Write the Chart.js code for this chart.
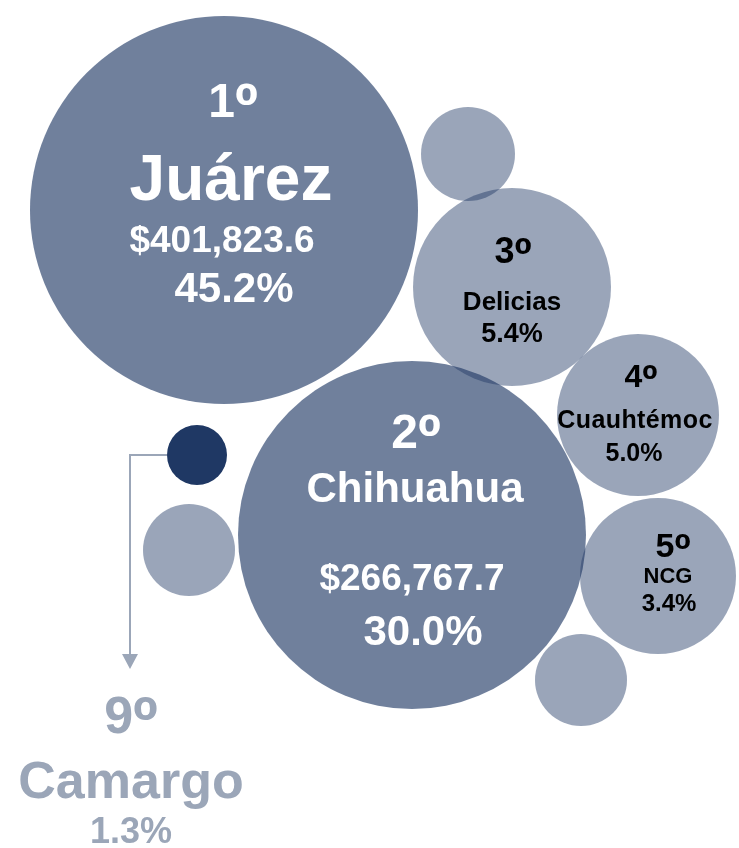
<!DOCTYPE html>
<html>
<head>
<meta charset="utf-8">
<script src="https://cdn.jsdelivr.net/npm/chart.js@4/dist/chart.umd.min.js"></script>
<style>
  html, body { margin: 0; padding: 0; background: #ffffff; }
  #wrap { width: 739px; height: 848px; position: relative; }
</style>
</head>
<body>
<div id="wrap"><canvas id="bubbleChart"></canvas></div>
<script>
// ── Data ─────────────────────────────────────────────────
var ranks        = ["1º", "2º", "3º", "4º", "5º", "6º", "7º", "8º", "9º"];
var municipios   = ["Juárez", "Chihuahua", "Delicias", "Cuauhtémoc", "NCG", "", "", "", "Camargo"];
var montos       = [401823.6, 266767.7, null, null, null, null, null, null, null];
var participacion = [45.2, 30.0, 5.4, 5.0, 3.4, null, null, null, 1.3];

// bubble layout: x / y in chart units, r in px
var bubbleX = [224, 412, 512, 638, 658, 468, 581, 189, 197];
var bubbleY = [210, 535, 287, 415, 576, 154, 680, 550, 455];
var bubbleR = [194, 174, 99, 81, 78, 47, 46, 46, 30];

var NAVY   = "31,56,100";
var BIG    = "rgba(" + NAVY + ",0.64)";
var SMALL  = "rgba(" + NAVY + ",0.45)";
var SOLID  = "rgb(" + NAVY + ")";
var LIGHT  = "#9ba6b8";
var FONT   = "'Liberation Sans', Arial, sans-serif";

var points = bubbleX.map(function(x, i) {
  return { x: x, y: bubbleY[i], r: bubbleR[i] };
});
var colors = bubbleX.map(function(x, i) {
  if (i === 8) return SOLID;
  return i < 2 ? BIG : SMALL;
});

function fmtMonto(v) {
  return "$" + v.toLocaleString("en-US", { minimumFractionDigits: 1, maximumFractionDigits: 1 });
}
function fmtPct(v) {
  return v.toFixed(1) + "%";
}

// text lines per bubble: offsets from bubble centre (baseline)
var labelLayout = {
  0: { color: "#ffffff", lines: [
    { t: ranks[0],                 dx: 9,  dy: -93, size: 48, ord: true },
    { t: municipios[0],            dx: 7,  dy: -10, size: 64 },
    { t: fmtMonto(montos[0]),      dx: -2, dy: 42,  size: 37 },
    { t: fmtPct(participacion[0]), dx: 10, dy: 92,  size: 42 }
  ]},
  1: { color: "#ffffff", lines: [
    { t: ranks[1],                 dx: 4,  dy: -87, size: 48, ord: true },
    { t: municipios[1],            dx: 3,  dy: -33, size: 42 },
    { t: fmtMonto(montos[1]),      dx: 0,  dy: 55,  size: 37 },
    { t: fmtPct(participacion[1]), dx: 11, dy: 110, size: 42 }
  ]},
  2: { color: "#000000", lines: [
    { t: ranks[2],                 dx: 1,  dy: -24, size: 36, ord: true },
    { t: municipios[2],            dx: 0,  dy: 23,  size: 26 },
    { t: fmtPct(participacion[2]), dx: 0,  dy: 55,  size: 27 }
  ]},
  3: { color: "#000000", lines: [
    { t: ranks[3],                 dx: 3,  dy: -28, size: 32, ord: true },
    { t: municipios[3],            dx: -3, dy: 13,  size: 25, spacing: 0.4 },
    { t: fmtPct(participacion[3]), dx: -4, dy: 46,  size: 25 }
  ]},
  4: { color: "#000000", lines: [
    { t: ranks[4],                 dx: 15, dy: -19, size: 34, ord: true },
    { t: municipios[4],            dx: 10, dy: 7,   size: 22 },
    { t: fmtPct(participacion[4]), dx: 11, dy: 35,  size: 24 }
  ]},
  8: { color: LIGHT, lines: [
    { t: ranks[8],                 dx: -66, dy: 278, size: 52, ord: true },
    { t: municipios[8],            dx: -66, dy: 343, size: 52 },
    { t: fmtPct(participacion[8]), dx: -66, dy: 388, size: 36 }
  ]}
};

// rank text: digit plus a larger "º" top-aligned with the digit
function drawRank(ctx, text, cx, y, size) {
  var digit = text.slice(0, -1);
  var ord   = text.slice(-1);
  var big   = size * 1.3;
  ctx.font = "bold " + size + "px " + FONT;
  var w1 = ctx.measureText(digit).width;
  ctx.font = "bold " + big + "px " + FONT;
  var w2 = ctx.measureText(ord).width;
  var x0 = cx - (w1 + w2) / 2;
  ctx.textAlign = "left";
  ctx.font = "bold " + size + "px " + FONT;
  ctx.fillText(digit, x0, y);
  ctx.font = "bold " + big + "px " + FONT;
  ctx.fillText(ord, x0 + w1, y + 0.716 * (big - size));
  ctx.textAlign = "center";
}

// ── Labels + Camargo callout ─────────────────────────────
var bubbleLabels = {
  id: "bubbleLabels",
  afterDatasetsDraw: function(chart) {
    var ctx  = chart.ctx;
    var meta = chart.getDatasetMeta(0);
    ctx.save();

    // arrow from Camargo bubble down to its label
    var cam = meta.data[8];
    var r   = bubbleR[8];
    var ax  = cam.x - 67;
    ctx.strokeStyle = LIGHT;
    ctx.fillStyle   = LIGHT;
    ctx.lineWidth   = 2;
    ctx.beginPath();
    ctx.moveTo(cam.x - r, cam.y);
    ctx.lineTo(ax, cam.y);
    ctx.lineTo(ax, cam.y + 202);
    ctx.stroke();
    ctx.beginPath();
    ctx.moveTo(ax - 8, cam.y + 199);
    ctx.lineTo(ax + 8, cam.y + 199);
    ctx.lineTo(ax, cam.y + 214);
    ctx.closePath();
    ctx.fill();

    ctx.textAlign    = "center";
    ctx.textBaseline = "alphabetic";
    Object.keys(labelLayout).forEach(function(k) {
      var el  = meta.data[k];
      var cfg = labelLayout[k];
      ctx.fillStyle = cfg.color;
      cfg.lines.forEach(function(l) {
        if (l.ord) {
          drawRank(ctx, l.t, el.x + l.dx, el.y + l.dy, l.size);
          return;
        }
        ctx.font = "bold " + l.size + "px " + FONT;
        ctx.letterSpacing = (l.spacing || 0) + "px";
        ctx.fillText(l.t, el.x + l.dx, el.y + l.dy);
        ctx.letterSpacing = "0px";
      });
    });
    ctx.restore();
  }
};

new Chart(document.getElementById("bubbleChart"), {
  type: "bubble",
  data: {
    datasets: [{
      data: points,
      backgroundColor: colors,
      borderWidth: 0,
      hoverBorderWidth: 0
    }]
  },
  options: {
    responsive: true,
    maintainAspectRatio: false,
    animation: false,
    events: [],
    clip: false,
    layout: { padding: 0, autoPadding: false },
    scales: {
      x: { type: "linear", min: 0, max: 739, display: false },
      y: { type: "linear", min: 0, max: 848, reverse: true, display: false }
    },
    plugins: {
      legend: { display: false },
      tooltip: { enabled: false }
    }
  },
  plugins: [bubbleLabels]
});
</script>
</body>
</html>
